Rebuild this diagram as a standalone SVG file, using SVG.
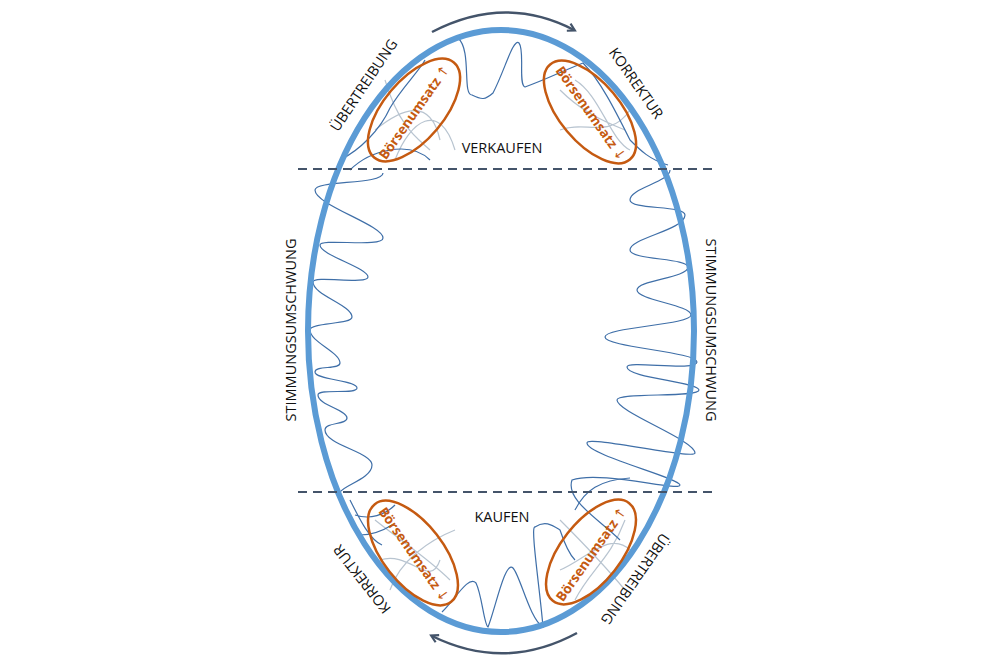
<svg xmlns="http://www.w3.org/2000/svg" width="999" height="666" viewBox="0 0 999 666">
<style>
.lbl{font-family:"Open Sans","Liberation Sans",sans-serif;font-size:14.5px;fill:#111;text-anchor:middle}
.or{font-family:"Open Sans","Liberation Sans",sans-serif;font-size:13.5px;font-weight:bold;fill:#c55a11;text-anchor:middle}
.arw{font-family:"DejaVu Sans",sans-serif;font-weight:normal}
.oe{fill:none;stroke:#c55a11;stroke-width:2.5}
.w{fill:none;stroke:#3f6fa8;stroke-width:1.2}
.g{fill:none;stroke:#b8c4d0;stroke-width:1.2}
.d{stroke:#44546a;stroke-width:2;stroke-dasharray:9,6}
.ar{fill:none;stroke:#44546a;stroke-width:2.5;marker-end:url(#ah)}
</style>
<defs>
<marker id="ah" markerWidth="10" markerHeight="10" refX="7" refY="5" orient="auto" markerUnits="userSpaceOnUse" viewBox="0 0 10 10"><path d="M1,1 L8,5 L1,9" fill="none" stroke="#44546a" stroke-width="2.2"/></marker>
</defs>
<rect width="999" height="666" fill="#fff"/>
<g id="waves">
<path class="g" d="M385,80 C400,130 420,140 430,150 M375,130 C400,110 430,95 440,140 M395,160 C410,120 440,100 455,150"/>
<path class="g" d="M560,90 C580,110 600,120 625,130 M575,80 C600,95 610,140 630,150 M560,130 C585,120 610,140 630,110"/>
<path class="g" d="M375,520 C400,540 430,560 450,580 M380,560 C410,550 430,590 440,560 M390,590 C400,560 430,540 455,530"/>
<path class="g" d="M560,520 C580,540 600,560 625,590 M560,570 C585,560 610,530 630,550 M575,600 C590,570 610,560 625,520"/>
<path class="w" d="M340,160 C360,150 380,130 390,108 C400,90 420,70 425,60 M350,170 C370,150 410,140 430,160 M458,38 C472,50 462,95 472,95 C482,100 485,100 493,93 C505,70 513,38 519,43 C525,50 518,85 525,87 C545,80 565,70 583,63 C600,80 615,110 630,140 C640,150 650,160 668,165"/>
<path class="w" d="M383,173 C383,185 315,180 315,190 C315,205 383,225 383,238 C383,248 320,238 320,245 C320,255 368,268 368,277 C368,285 313,275 313,282 C313,295 352,305 352,317 C352,325 310,322 310,330 C310,342 340,352 340,363 C340,370 315,365 315,372 C315,380 357,380 357,388 C357,395 318,388 318,395 C318,405 347,410 347,418 C347,425 325,422 325,430 C325,445 372,452 372,465 C372,478 345,485 340,492"/>
<path class="w" d="M670,170 C670,182 630,188 630,200 C630,210 685,205 685,215 C685,230 630,238 630,250 C630,260 688,258 688,267 C688,278 637,280 637,290 C637,300 691,305 691,315 C691,325 605,327 605,337 C605,347 697,352 697,362 C697,372 627,360 627,367 C627,378 699,382 699,390 C699,398 617,392 617,400 C617,412 695,440 695,453 C695,460 587,435 587,443 C587,455 680,478 680,485 C680,492 600,470 572,480 C565,500 600,520 620,540"/>
<path class="w" d="M350,500 C360,520 370,540 382,545 M355,515 C370,520 385,515 395,505 M360,535 C372,535 384,530 392,525 M442,612 C455,600 468,575 476,583 C482,595 484,625 488,627 C495,610 505,560 513,568 C520,575 530,620 543,627 C540,590 530,525 535,527 C545,520 552,525 560,530 C565,545 570,555 575,560 M575,510 C585,490 600,480 630,478"/>
</g>
<g id="ring"><ellipse cx="501" cy="331" rx="193" ry="301" fill="none" stroke="#5b9bd5" stroke-width="6"/></g>
<g id="connectors">
<line class="d" x1="298" y1="169" x2="712" y2="169"/>
<line class="d" x1="298" y1="492" x2="712" y2="492"/>
<path class="ar" d="M432,32 Q505,-6 574,30"/>
<path class="ar" d="M577,633 Q505,672 432,636"/>
</g>
<g id="ov-tl"><ellipse class="oe" cx="414" cy="110" rx="62" ry="30" transform="rotate(-50 414 110)" fill="#fff" fill-opacity="0.55"/><text class="or" transform="translate(418,115) rotate(-55)">Börsenumsatz <tspan class="arw">↑</tspan></text></g>
<g id="ov-tr"><ellipse class="oe" cx="590" cy="112" rx="62" ry="30" transform="rotate(50 590 112)" fill="#fff" fill-opacity="0.55"/><text class="or" transform="translate(587,116) rotate(55)">Börsenumsatz <tspan class="arw">↓</tspan></text></g>
<g id="ov-bl"><ellipse class="oe" cx="413" cy="553" rx="62" ry="30" transform="rotate(52 413 553)" fill="#fff" fill-opacity="0.55"/><text class="or" transform="translate(410,557) rotate(55)">Börsenumsatz <tspan class="arw">↓</tspan></text></g>
<g id="ov-br"><ellipse class="oe" cx="591" cy="552" rx="62" ry="30" transform="rotate(-52 591 552)" fill="#fff" fill-opacity="0.55"/><text class="or" transform="translate(595,557) rotate(-55)">Börsenumsatz <tspan class="arw">↑</tspan></text></g>
<g id="labels">
<text class="lbl" x="502" y="153">VERKAUFEN</text>
<text class="lbl" x="502" y="522">KAUFEN</text>
<text class="lbl" transform="translate(368,88) rotate(-56)">ÜBERTREIBUNG</text>
<text class="lbl" transform="translate(632,86) rotate(55)">KORREKTUR</text>
<text class="lbl" transform="translate(296,330) rotate(-90)">STIMMUNGSUMSCHWUNG</text>
<text class="lbl" transform="translate(706,330) rotate(90)">STIMMUNGSUMSCHWUNG</text>
<text class="lbl" transform="translate(366,576) rotate(-128)">KORREKTUR</text>
<text class="lbl" transform="translate(631,576) rotate(125)">ÜBERTREIBUNG</text>
</g>
</svg>
